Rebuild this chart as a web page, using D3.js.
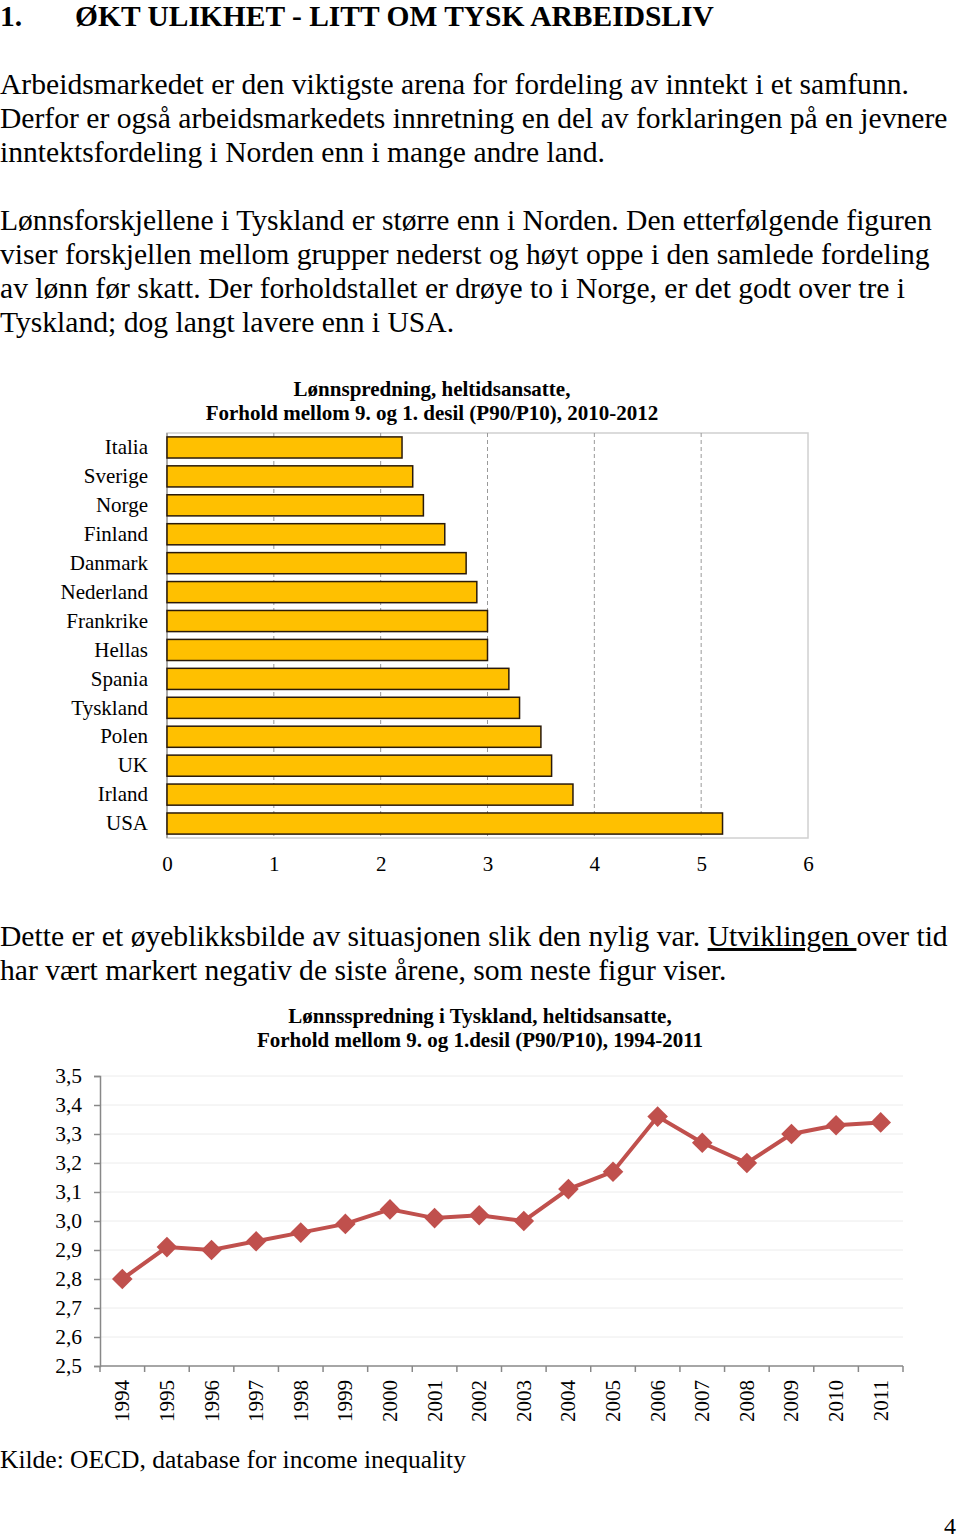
<!DOCTYPE html>
<html>
<head>
<meta charset="utf-8">
<script src="https://cdn.jsdelivr.net/npm/d3@7"></script>
<style>
  body { margin: 0; background: #fff; }
  svg { display: block; font-family: "Liberation Serif", "Times New Roman", serif; }
</style>
</head>
<body>
<div id="page"></div>
<script>
var w = 960;
var h = 1538;

// bar chart data (P90/P10, 2010-2012)
var countries = ["Italia", "Sverige", "Norge", "Finland", "Danmark", "Nederland", "Frankrike",
    "Hellas", "Spania", "Tyskland", "Polen", "UK", "Irland", "USA"];
var ratios = [2.2, 2.3, 2.4, 2.6, 2.8, 2.9, 3.0, 3.0, 3.2, 3.3, 3.5, 3.6, 3.8, 5.2];
var barTicks = [0, 1, 2, 3, 4, 5, 6];

// line chart data (Tyskland 1994-2011)
var years = ["1994", "1995", "1996", "1997", "1998", "1999", "2000", "2001", "2002",
    "2003", "2004", "2005", "2006", "2007", "2008", "2009", "2010", "2011"];
var germany = [2.80, 2.91, 2.90, 2.93, 2.96, 2.99, 3.04, 3.01, 3.02,
    3.00, 3.11, 3.17, 3.36, 3.27, 3.20, 3.30, 3.33, 3.34];
var lineTicks = [2.5, 2.6, 2.7, 2.8, 2.9, 3.0, 3.1, 3.2, 3.3, 3.4, 3.5];

var svg = d3.select("#page").append("svg")
    .attr("width", w)
    .attr("height", h);

var bodySize = 29.6;

// heading
svg.append("text").attr("x", 0).attr("y", 26)
    .attr("font-size", 29.5).attr("font-weight", "bold").text("1.");
svg.append("text").attr("x", 75).attr("y", 26)
    .attr("font-size", 29.5).attr("font-weight", "bold").text("ØKT ULIKHET - LITT OM TYSK ARBEIDSLIV");

function para(lines, y0) {
    lines.forEach(function (l, i) {
        svg.append("text")
            .attr("x", 0)
            .attr("y", y0 + i * 34)
            .attr("font-size", bodySize)
            .text(l);
    });
}
para(["Arbeidsmarkedet er den viktigste arena for fordeling av inntekt i et samfunn.",
    "Derfor er også arbeidsmarkedets innretning en del av forklaringen på en jevnere",
    "inntektsfordeling i Norden enn i mange andre land."], 94);
para(["Lønnsforskjellene i Tyskland er større enn i Norden. Den etterfølgende figuren",
    "viser forskjellen mellom grupper nederst og høyt oppe i den samlede fordeling",
    "av lønn før skatt. Der forholdstallet er drøye to i Norge, er det godt over tre i",
    "Tyskland; dog langt lavere enn i USA."], 230);

// ---------- bar chart ----------
var bx0 = 167, bx1 = 808, by0 = 433, by1 = 838;

var xScale = d3.scaleLinear().domain([0, 6]).range([bx0, bx1]);
var yBand = d3.scaleBand().domain(countries).range([by0, by1]).paddingInner(0.27).paddingOuter(0.135);

svg.append("text").attr("x", 432).attr("y", 396).attr("text-anchor", "middle")
    .attr("font-size", 21).attr("font-weight", "bold").text("Lønnspredning, heltidsansatte,");
svg.append("text").attr("x", 432).attr("y", 420).attr("text-anchor", "middle")
    .attr("font-size", 21).attr("font-weight", "bold").text("Forhold mellom 9. og 1. desil (P90/P10), 2010-2012");

// frame
svg.append("rect")
    .attr("x", bx0).attr("y", by0)
    .attr("width", bx1 - bx0).attr("height", by1 - by0)
    .attr("fill", "none").attr("stroke", "#d0d0d0").attr("stroke-width", 1.5);

// dashed grid
svg.append("g").selectAll("line")
    .data(barTicks.slice(1, 6))
    .enter().append("line")
    .attr("x1", function (d) { return xScale(d); })
    .attr("x2", function (d) { return xScale(d); })
    .attr("y1", by0).attr("y2", by1)
    .attr("stroke", "#999").attr("stroke-width", 1)
    .attr("stroke-dasharray", "4,3");

svg.append("line")
    .attr("x1", bx0).attr("x2", bx0).attr("y1", by0).attr("y2", by1)
    .attr("stroke", "#999").attr("stroke-width", 1.5);

svg.append("g").selectAll("rect")
    .data(countries)
    .enter().append("rect")
    .attr("x", xScale(0))
    .attr("y", function (d) { return yBand(d); })
    .attr("width", function (d, i) { return xScale(ratios[i]) - xScale(0); })
    .attr("height", yBand.bandwidth())
    .attr("fill", "#ffc000")
    .attr("stroke", "#2a1a0a")
    .attr("stroke-width", 1.5);

var yAxisBar = d3.axisLeft(yBand).tickSize(0).tickPadding(19);
var gy = svg.append("g").attr("transform", "translate(" + bx0 + ",0)").call(yAxisBar);
gy.select(".domain").remove();
gy.selectAll("text").attr("font-size", 21).attr("font-family", "Liberation Serif").attr("fill", "#000");

var xAxisBar = d3.axisBottom(xScale).tickValues(barTicks).tickFormat(d3.format("d"))
    .tickSize(0).tickPadding(18);
var gx = svg.append("g").attr("transform", "translate(0," + by1 + ")").call(xAxisBar);
gx.select(".domain").remove();
gx.selectAll("text").attr("font-size", 21).attr("font-family", "Liberation Serif").attr("fill", "#000");

// paragraph 3
var p3 = svg.append("text").attr("x", 0).attr("y", 946).attr("font-size", bodySize);
p3.append("tspan").text("Dette er et øyeblikksbilde av situasjonen slik den nylig var. ");
p3.append("tspan").attr("text-decoration", "underline").text("Utviklingen ");
p3.append("tspan").text("over tid");
svg.append("text").attr("x", 0).attr("y", 980).attr("font-size", bodySize)
    .text("har vært markert negativ de siste årene, som neste figur viser.");

// ---------- line chart ----------
var lx0 = 100, lx1 = 903, ly0 = 1076, ly1 = 1366;

svg.append("text").attr("x", 480).attr("y", 1023).attr("text-anchor", "middle")
    .attr("font-size", 21).attr("font-weight", "bold").text("Lønnsspredning i Tyskland, heltidsansatte,");
svg.append("text").attr("x", 480).attr("y", 1047).attr("text-anchor", "middle")
    .attr("font-size", 21).attr("font-weight", "bold").text("Forhold mellom 9. og 1.desil (P90/P10), 1994-2011");

var xBand = d3.scaleBand().domain(years).range([lx0, lx1]);
var yScale = d3.scaleLinear().domain([2.5, 3.5]).range([ly1, ly0]);

svg.append("g").selectAll("line")
    .data(lineTicks.slice(1))
    .enter().append("line")
    .attr("x1", lx0).attr("x2", lx1)
    .attr("y1", function (d) { return yScale(d); })
    .attr("y2", function (d) { return yScale(d); })
    .attr("stroke", "#ececec").attr("stroke-width", 1);

var yAxisLine = d3.axisLeft(yScale).tickValues(lineTicks).tickSize(6).tickPadding(12)
    .tickFormat(function (d) { return d3.format(".1f")(d).replace(".", ","); });
var gly = svg.append("g").attr("transform", "translate(" + lx0 + ",0)").call(yAxisLine);
gly.selectAll("line, path").attr("stroke", "#888").attr("stroke-width", 1.5);
gly.selectAll("text").attr("font-size", 21.5).attr("font-family", "Liberation Serif").attr("fill", "#000");

// x axis with ticks between categories
svg.append("line").attr("x1", lx0).attr("x2", lx1).attr("y1", ly1).attr("y2", ly1)
    .attr("stroke", "#888").attr("stroke-width", 1.5);
var edges = years.map(function (d) { return xBand(d); }).concat([lx1]);
svg.append("g").selectAll("line")
    .data(edges)
    .enter().append("line")
    .attr("x1", function (d) { return d; }).attr("x2", function (d) { return d; })
    .attr("y1", ly1).attr("y2", ly1 + 6)
    .attr("stroke", "#888").attr("stroke-width", 1.5);

svg.append("g").selectAll("text")
    .data(years)
    .enter().append("text")
    .attr("transform", function (d) {
        return "translate(" + (xBand(d) + xBand.bandwidth() / 2 + 7) + "," + (ly1 + 14) + ") rotate(-90)";
    })
    .attr("text-anchor", "end")
    .attr("font-size", 21)
    .text(function (d) { return d; });

var line = d3.line()
    .x(function (d, i) { return xBand(years[i]) + xBand.bandwidth() / 2; })
    .y(function (d) { return yScale(d); });

svg.append("path")
    .datum(germany)
    .attr("d", line)
    .attr("fill", "none")
    .attr("stroke", "#c0504d")
    .attr("stroke-width", 4);

var diamond = d3.symbol().type(d3.symbolDiamond2).size(270);
svg.append("g").selectAll("path")
    .data(germany)
    .enter().append("path")
    .attr("d", diamond)
    .attr("transform", function (d, i) {
        return "translate(" + (xBand(years[i]) + xBand.bandwidth() / 2) + "," + yScale(d) + ")";
    })
    .attr("fill", "#c0504d");

svg.append("text").attr("x", 0).attr("y", 1468).attr("font-size", 25.5)
    .text("Kilde: OECD, database for income inequality");
svg.append("text").attr("x", 944).attr("y", 1534)
    .attr("font-size", 24).text("4");
</script>
</body>
</html>
